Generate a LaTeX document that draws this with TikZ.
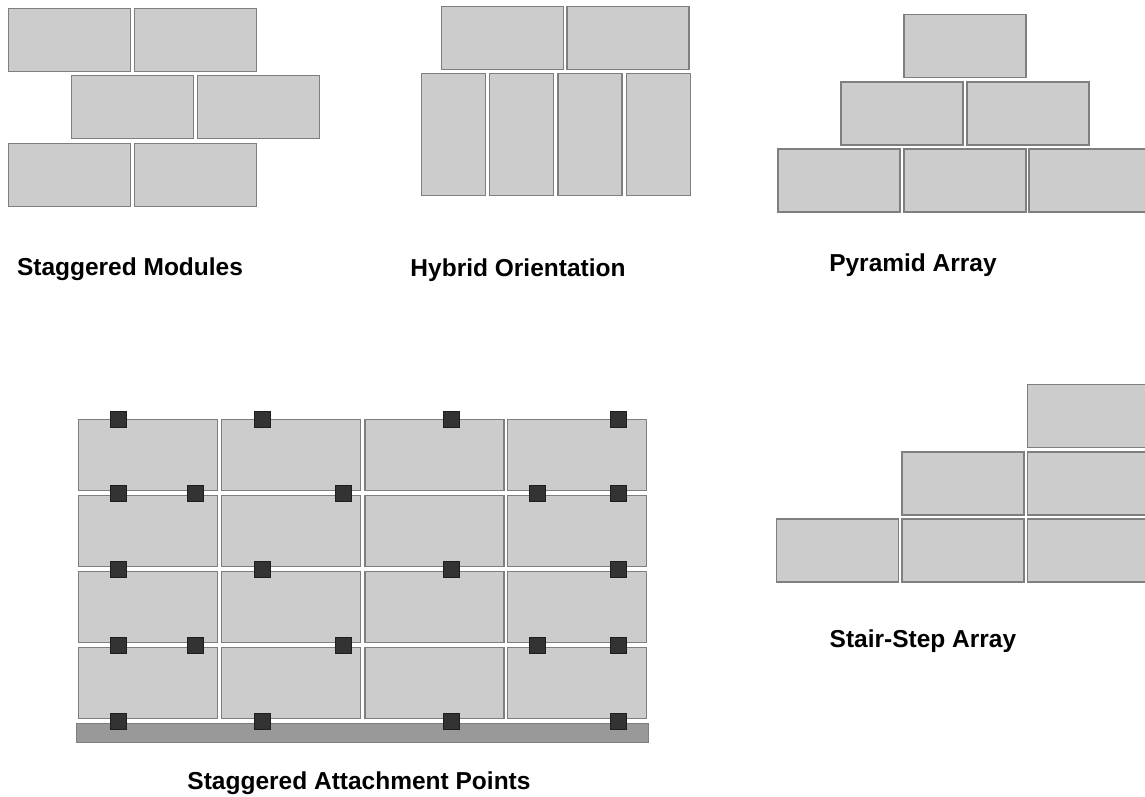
\documentclass[tikz,border=0pt]{standalone}
\usepackage{fontspec}
\setmainfont{Liberation Sans}
\definecolor{modfill}{HTML}{CCCCCC}
\definecolor{modedge}{HTML}{7F7F7F}
\definecolor{railfill}{HTML}{999999}
\definecolor{fixfill}{HTML}{333333}
\definecolor{fixedge}{HTML}{1E1E1E}
\newfontfamily\capfont{Liberation Sans}
\tikzset{
  panel_n/.style = {rectangle, draw=modedge, fill=modfill,
    line width=1.8pt, inner sep=0pt},
  mod_h/.style = {panel_n, minimum width=122pt, minimum height=63pt},% module couche
  mod_v/.style = {panel_n, minimum width=64pt, minimum height=122pt},% module debout
  mod_a/.style = {panel_n, minimum width=139pt, minimum height=71pt},% module sur rail
  rail_n/.style = {panel_n, fill=railfill, minimum width=572pt,
    minimum height=19pt},% rail
  fix_n/.style = {rectangle, draw=fixedge, fill=fixfill, line width=1pt,
    inner sep=0pt, minimum size=16pt},% point de fixation
  caption/.style = {anchor=base, font=\capfont\bfseries\fontsize{24.5}{29}\selectfont}
}
\begin{document}
\begin{tikzpicture}[x=1pt,y=-1pt]
\useasboundingbox (0,0) rectangle (1145,796);
\clip (0,0) rectangle (1145,796);
% staggered modules
\foreach \x/\y [count=\i] in {69.5/40,195.5/40,132.5/107,258.5/107,69.5/175,195.5/175}
  \node [mod_h] (sm\i) at (\x,\y) {};
\node [caption] (sm_cap) at (130,275) {Staggered Modules};
% hybrid orientation
\node [mod_h] (ho1) at (502.5,38) {};
\node [mod_h] (ho2) at (628,38) {};
\foreach \x [count=\i from 3] in {453.5,521.5,590,658.5}
  \node [mod_v] (ho\i) at (\x,134.5) {};
\node [caption] (ho_cap) at (518,276) {Hybrid Orientation};
% pyramid array
\foreach \x/\y [count=\i] in {965/46,902/113.5,1028/113.5,839/180.5,965/180.5,1090/180.5}
  \node [mod_h] (pa\i) at (\x,\y) {};
\node [caption] (pa_cap) at (913,271) {Pyramid Array};
% staggered attachment points
\foreach \y [count=\r] in {455,531,607,683}
  \foreach \x [count=\c] in {148,291,434.5,577}
    \node [mod_a] (sa\r\c) at (\x,\y) {};
\node [rail_n] (rail) at (362.5,733) {};
\foreach \y [count=\r] in {419,569,721}
  \foreach \x [count=\c] in {118,262,451,618}
    \node [fix_n] (fa\r\c) at (\x,\y) {};
\foreach \y [count=\r] in {493,645}
  \foreach \x [count=\c] in {118,195,343,537,618}
    \node [fix_n] (fb\r\c) at (\x,\y) {};
\node [caption] (sa_cap) at (359,789) {Staggered Attachment Points};
% stair-step array
\foreach \x/\y [count=\i] in {837.5/550.5,963/550.5,1088.5/550.5,963/483.5,1088.5/483.5,1088.5/416}
  \node [mod_h] (ss\i) at (\x,\y) {};
\node [caption] (ss_cap) at (923,647) {Stair-Step Array};
\end{tikzpicture}
\end{document}
